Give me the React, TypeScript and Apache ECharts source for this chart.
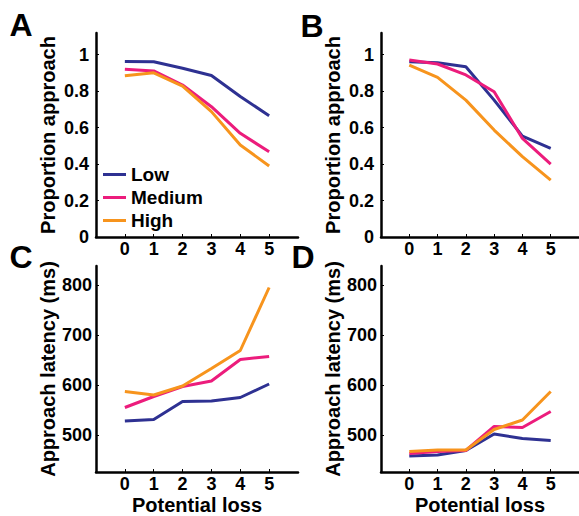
import React, { useEffect, useRef } from "react";
import * as echarts from "echarts";

const categories = [0, 1, 2, 3, 4, 5];
const seriesNames = ["Low", "Medium", "High"];
const colors = ["#2e3192", "#ec1c7c", "#f7941d"];

const aLow = [0.962, 0.96, 0.925, 0.885, 0.77, 0.665];
const aMedium = [0.92, 0.91, 0.833, 0.714, 0.568, 0.467];
const aHigh = [0.884, 0.9, 0.827, 0.687, 0.504, 0.389];

const bLow = [0.96, 0.955, 0.933, 0.75, 0.553, 0.486];
const bMedium = [0.97, 0.948, 0.888, 0.796, 0.54, 0.4];
const bHigh = [0.942, 0.875, 0.75, 0.586, 0.44, 0.312];

const cLow = [528, 531, 567, 568, 575, 602];
const cMedium = [555, 577, 597, 608, 651, 657];
const cHigh = [587, 580, 598, 633, 669, 795];

const dLow = [458, 460, 469, 502, 493, 489];
const dMedium = [463, 467, 469, 517, 515, 547];
const dHigh = [467, 470, 470, 511, 530, 587];

const proportionTicks = [0, 0.2, 0.4, 0.6, 0.8, 1];
const latencyTicks = [500, 600, 700, 800];
const panelLetters = ["A", "B", "C", "D"];

const FONT = "'Liberation Sans', Arial, Helvetica, sans-serif";

export default function App() {
  const ref = useRef<HTMLDivElement>(null);

  useEffect(() => {
    document.body.style.margin = "0";
    if (!ref.current) return;
    const chart = echarts.init(ref.current, null, { renderer: "svg" });

    const grids = [
      { left: 96, top: 33, width: 202, height: 204 },
      { left: 381, top: 33, width: 202, height: 204 },
      { left: 96, top: 266, width: 202, height: 206 },
      { left: 381, top: 266, width: 202, height: 206 },
    ];

    const axisLine = {
      show: true,
      onZero: false,
      lineStyle: { color: "#000", width: 2.5 },
    };
    const labelStyle = {
      color: "#000",
      fontSize: 18,
      fontWeight: "bold" as const,
      fontFamily: FONT,
    };
    const nameStyle = {
      color: "#000",
      fontSize: 20,
      fontWeight: "bold" as const,
      fontFamily: FONT,
    };

    const xAxis = grids.map((_, i) => ({
      type: "value",
      gridIndex: i,
      min: -1,
      max: 6,
      axisLine,
      splitLine: { show: false },
      axisTick: {
        show: true,
        inside: true,
        length: 3,
        lineStyle: { color: "#000", width: 1 },
        customValues: categories,
      },
      axisLabel: { ...labelStyle, margin: 3, customValues: categories },
      name: i >= 2 ? "Potential loss" : "",
      nameLocation: "middle",
      nameGap: 23,
      nameTextStyle: nameStyle,
    }));

    const yAxis = grids.map((_, i) => {
      const isProp = i < 2;
      return {
        type: "value",
        gridIndex: i,
        min: isProp ? 0 : 426,
        max: isProp ? 1.118 : 838,
        axisLine,
        splitLine: { show: false },
        axisTick: {
          show: true,
          inside: true,
          length: 3,
          lineStyle: { color: "#000", width: 1 },
          customValues: isProp ? proportionTicks : latencyTicks,
        },
        axisLabel: {
          ...labelStyle,
          margin: isProp ? 7 : 4,
          customValues: isProp ? proportionTicks : latencyTicks,
        },
        name: isProp ? "Proportion approach" : "Approach latency (ms)",
        nameLocation: "middle",
        nameGap: 38,
        nameTextStyle: nameStyle,
      };
    });

    const panelData = [
      [aLow, aMedium, aHigh],
      [bLow, bMedium, bHigh],
      [cLow, cMedium, cHigh],
      [dLow, dMedium, dHigh],
    ];

    const series: any[] = [];
    panelData.forEach((panel, p) => {
      panel.forEach((vals, s) => {
        series.push({
          type: "line",
          name: seriesNames[s],
          xAxisIndex: p,
          yAxisIndex: p,
          data: categories.map((c, k) => [c, vals[k]]),
          symbol: "none",
          showSymbol: false,
          lineStyle: { color: colors[s], width: 3 },
          itemStyle: { color: colors[s] },
          z: 2 + s,
        });
      });
    });

    const letterPos = [
      [21, 25],
      [312, 26],
      [21, 257],
      [303, 257],
    ];

    chart.setOption({
      animation: false,
      grid: grids,
      xAxis,
      yAxis,
      series,
      legend: {
        data: seriesNames,
        orient: "vertical",
        left: 103,
        top: 165,
        padding: 0,
        itemGap: 4,
        itemWidth: 23,
        itemHeight: 3,
        icon: "rect",
        textStyle: {
          color: "#000",
          fontSize: 19,
          fontWeight: "bold",
          fontFamily: FONT,
        },
        selectedMode: false,
      },
      graphic: panelLetters.map((t, i) => ({
        type: "text",
        x: letterPos[i][0],
        y: letterPos[i][1],
        style: {
          text: t,
          fill: "#000",
          font: `bold 32px ${FONT}`,
          align: "center",
          verticalAlign: "middle",
        },
      })),
    });

    return () => chart.dispose();
  }, []);

  return <div ref={ref} style={{ width: 579, height: 516 }} />;
}
